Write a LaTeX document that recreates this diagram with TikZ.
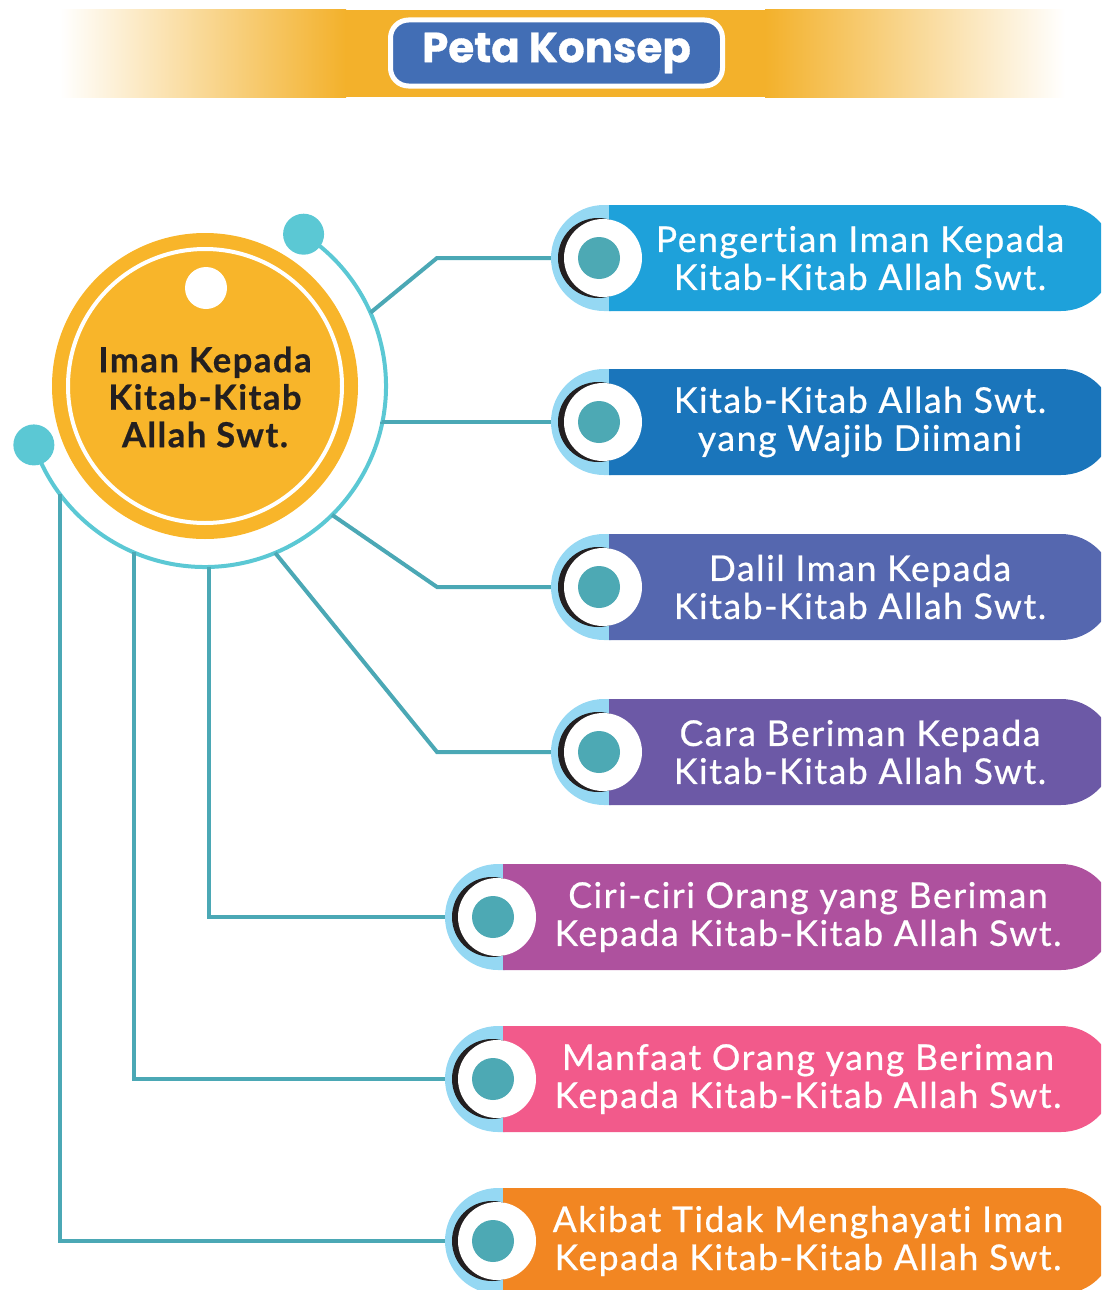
\documentclass[tikz,border=0pt]{standalone}
\usepackage{fontspec}
\setmainfont{Lato}[LetterSpace=4.5, FakeBold=0.6, Ligatures={NoCommon,NoRare}]
\newfontfamily\labelfont{Lato}[LetterSpace=4.5, FakeBold=0.6, Ligatures={NoCommon,NoRare}]
\newfontfamily\titlefont{Poppins}[FakeBold=0.8]
\usetikzlibrary{calc}

\definecolor{bandorange}{HTML}{F3B12B}
\definecolor{titleblue}{HTML}{426EB5}
\definecolor{hubfill}{HTML}{F8B52A}
\definecolor{ringcyan}{HTML}{5BC8D4}
\definecolor{linkteal}{HTML}{4BA8B5}
\definecolor{dotteal}{HTML}{4DA9B4}
\definecolor{capblue}{HTML}{95D8F3}
\definecolor{inkdark}{HTML}{231F20}
\definecolor{pillA}{HTML}{1EA1DA}
\definecolor{pillB}{HTML}{1A75BB}
\definecolor{pillC}{HTML}{5567AF}
\definecolor{pillD}{HTML}{6C59A6}
\definecolor{pillE}{HTML}{AE519E}
\definecolor{pillF}{HTML}{F25A8B}
\definecolor{pillG}{HTML}{F28622}

\tikzset{
  titlebox/.style={draw=white, line width=5pt, fill=titleblue, rounded corners=18pt,
    minimum width=332pt, minimum height=66pt, text=white,
    font=\titlefont\bfseries\fontsize{42}{42}\selectfont},
  hubtext/.style={align=center, text=inkdark, inner sep=0pt,
    font=\labelfont\bfseries\fontsize{34.5}{37.5}\selectfont},
  pilltext/.style={align=center, text=white, inner sep=0pt,
    font=\labelfont\fontsize{35.5}{38}\selectfont},
  ringdot/.style={circle, fill=ringcyan, minimum size=41pt, inner sep=0pt},
  pilldot/.style={circle, fill=dotteal, minimum size=42pt, inner sep=0pt},
  link/.style={draw=linkteal, line width=4pt},
}

% one topic bar: name, left x, centre y, colour, text centre x, text
\newcommand\topicbar[6]{%
  \fill[capblue] (#2+60,#3-53) -- (#2+53,#3-53)
    arc[start angle=-90, end angle=-270, radius=53] -- (#2+60,#3+53) -- cycle;
  \fill[#4] (#2+58,#3-53) -- (1061,#3-53)
    arc[start angle=-90, end angle=90, radius=53] -- (#2+58,#3+53) -- cycle;
  \fill[inkdark] (#2+47,#3) circle (40);
  \fill[white] (#2+52,#3) circle (39);
  \node[pilldot] (#1-dot) at (#2+48,#3) {};
  \node[pilltext] (#1-label) at (#5,#3) {#6};
}

\begin{document}
\begin{tikzpicture}[x=1pt,y=-1pt]
\useasboundingbox (0,0) rectangle (1101,1290);
\clip (0,0) rectangle (1101,1290);

% heading band
\shade[left color=white, right color=bandorange] (60,10) rectangle (346,97);
\fill[bandorange] (345,10) rectangle (766,97);
\shade[left color=bandorange, right color=white] (765,10) rectangle (1065,97);
\node[titlebox] (title) at (556.5,53) {Peta Konsep};

% central topic
\node[circle, fill=hubfill, minimum size=306pt, inner sep=0pt] (hub) at (205,386) {};
\draw[white, line width=4pt] (hub.center) circle (137);
\fill[white] (206,288) circle (21);
\node[hubtext] (hub-label) at (205,397) {Iman Kepada\\Kitab-Kitab\\Allah Swt.};

% outer ring
\draw[ringcyan, line width=4pt] ($(hub.center)+(-57:181)$)
  arc[start angle=-57, end angle=161, radius=181];
\node[ringdot] (ringtop) at ($(hub.center)+(-57:181)$) {};
\node[ringdot] (ringleft) at ($(hub.center)+(161:181)$) {};

% where the links leave the ring
\coordinate (r1) at ($(hub.center)+(-23.9:181)$);
\coordinate (r2) at ($(hub.center)+(11.4:181)$);
\coordinate (r3) at ($(hub.center)+(45.4:181)$);
\coordinate (r4) at ($(hub.center)+(67.2:181)$);
\coordinate (r5) at ($(hub.center)+(88.7:181)$);
\coordinate (r6) at ($(hub.center)+(113.1:181)$);
\coordinate (r7) at ($(hub.center)+(143.2:181)$);

% left ends of the topic bars
\coordinate (t1) at (553,258);
\coordinate (t2) at (553,422);
\coordinate (t3) at (553,587);
\coordinate (t4) at (553,752);
\coordinate (t5) at (447,917);
\coordinate (t6) at (447,1079);
\coordinate (t7) at (447,1241);

% links
\draw[link] (r1) -- (437,258) -- (t1);
\draw[link] (r2) -- (r2 |- t2) -- (t2);
\draw[link] (r3) -- (437,587) -- (t3);
\draw[link] (r4) -- (437,752) -- (t4);
\draw[link] (r5) -- (r5 |- t5) -- (t5);
\draw[link] (r6) -- (r6 |- t6) -- (t6);
\draw[link] (r7) -- (r7 |- t7) -- (t7);

% topic bars
\topicbar{b1}{551}{258}{pillA}{860}{Pengertian Iman Kepada\\Kitab-Kitab Allah Swt.}
\topicbar{b2}{551}{422}{pillB}{860}{Kitab-Kitab Allah Swt.\\yang Wajib Diimani}
\topicbar{b3}{551}{587}{pillC}{860}{Dalil Iman Kepada\\Kitab-Kitab Allah Swt.}
\topicbar{b4}{551}{752}{pillD}{860}{Cara Beriman Kepada\\Kitab-Kitab Allah Swt.}
\topicbar{b5}{445}{917}{pillE}{808}{Ciri-ciri Orang yang Beriman\\Kepada Kitab-Kitab Allah Swt.}
\topicbar{b6}{445}{1079}{pillF}{808}{Manfaat Orang yang Beriman\\Kepada Kitab-Kitab Allah Swt.}
\topicbar{b7}{445}{1241}{pillG}{808}{Akibat Tidak Menghayati Iman\\Kepada Kitab-Kitab Allah Swt.}
\end{tikzpicture}
\end{document}
